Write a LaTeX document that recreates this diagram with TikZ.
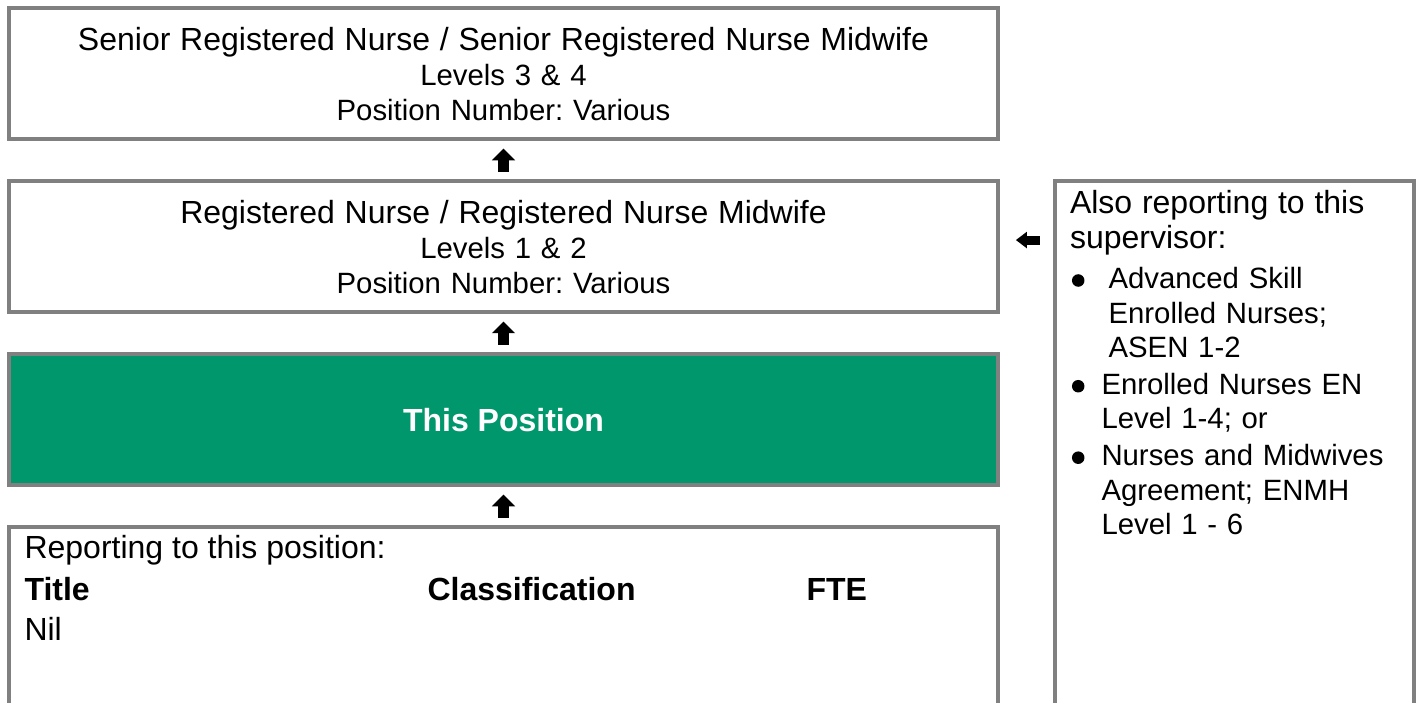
\documentclass[tikz,border=0pt]{standalone}
\usepackage{fontspec}
\setmainfont{Liberation Sans}
\usepackage{tikz}
\usetikzlibrary{positioning,arrows.meta}
\usepackage{xcolor}
\definecolor{posgreen}{RGB}{0,151,108}
\newcommand{\bul}{\tikz[baseline=0pt]\fill (0,3.1pt) circle (2.35pt);}
\frenchspacing

\begin{document}
\begin{tikzpicture}[x=0.375pt, y=-0.375pt,
  box/.style={rectangle, draw=gray, line width=1.5pt, inner sep=0pt, minimum width=370.65pt, minimum height=49.1pt},
  lvl/.style={box, text width=360pt, align=center, font=\fontsize{11}{12.9}\selectfont},
  txt/.style={anchor=base west, inner sep=0pt, font=\fontsize{12}{13.4}\selectfont},
  head/.style={txt, font=\bfseries\fontsize{12}{13.4}\selectfont},
  upbar/.style={line width=4.4pt, -{Triangle[width=8.75pt,length=4.4pt,line width=0pt]}, shorten <=2.85pt, shorten >=2.75pt},
  leftbar/.style={line width=3.4pt, -{Triangle[width=6.25pt,length=4.1pt,line width=0pt]}, shorten <=4.9pt, shorten >=6.1pt}]
\useasboundingbox (0,0) rectangle (1416,702);
\clip (0,0) rectangle (1416,702);
% chain of positions
\node[lvl] (snr) at (503.5,73.85) {{\fontsize{12}{13.4}\selectfont Senior Registered Nurse / Senior Registered Nurse Midwife}\\[0.5pt] Levels 3 \& 4\\ Position Number: Various};
\node[lvl] (lvl12) at (503.5,246.7) {{\fontsize{12}{13.4}\selectfont Registered Nurse / Registered Nurse Midwife}\\[0.5pt] Levels 1 \& 2\\ Position Number: Various};
\node[box, fill=posgreen, text=white, font=\bfseries\fontsize{12}{13.4}\selectfont] (this) at (503.5,419.8) {This Position};
\node[box, minimum height=102.2pt] (rep) at (503.5,663.75) {};
\node[txt] (reptitle) at (24,558.6) {Reporting to this position:};
\node[head] (title) at (24,600) {Title};
\node[head] (classif) at (427,600) {Classification};
\node[head] (fte) at (806,600) {FTE};
\node[txt] (nil) at (24,640) {Nil};
% side box
\node[box, minimum width=134.6pt, minimum height=232pt] (also) at (1234.5,490.65) {};
\node[anchor=north west, inner sep=0pt, text width=130pt, align=left, font=\fontsize{11}{12.85}\selectfont] (alsotext) at (1069.5,189.3) {%
{\fontsize{12}{13.4}\selectfont Also reporting to this\\ supervisor:\par}
\vspace{2.15pt}
\leftskip=14.45pt \leavevmode\llap{\makebox[14.45pt][l]{\hspace{0.72pt}\bul}}Advanced Skill\\ Enrolled Nurses;\\ ASEN 1-2\par
\vspace{1.1pt}
\leftskip=11.8pt \leavevmode\llap{\makebox[11.8pt][l]{\hspace{0.72pt}\bul}}Enrolled Nurses EN\\ Level 1-4; or\par
\vspace{1.1pt}
\leftskip=11.8pt \leavevmode\llap{\makebox[11.8pt][l]{\hspace{0.72pt}\bul}}Nurses and Midwives\\ Agreement; ENMH\\ Level 1 - 6\par};
% arrows
\draw[upbar] (lvl12.north) -- (snr.south);
\draw[upbar] (this.north) -- (lvl12.south);
\draw[upbar] (rep.north) -- (this.south);
\coordinate (lefttip) at ([yshift=2.5pt]lvl12.east);
\draw[leftbar] (also.west |- lefttip) -- (lefttip);
\end{tikzpicture}
\end{document}
